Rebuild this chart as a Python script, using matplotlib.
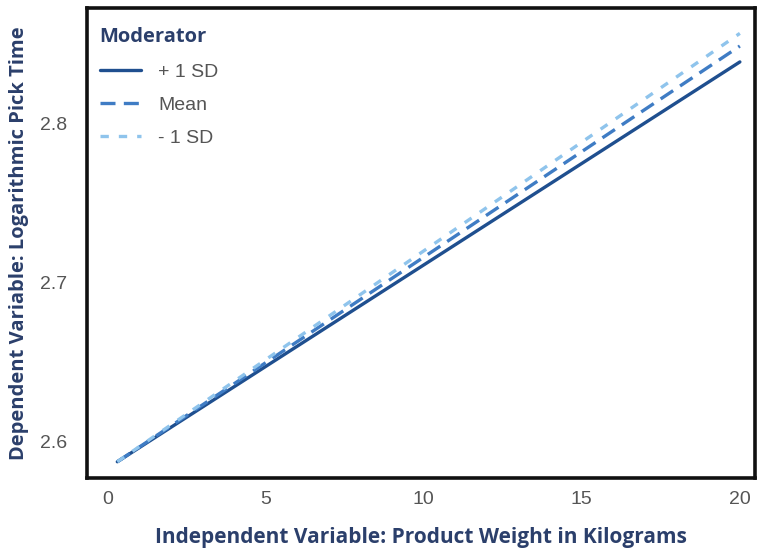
import matplotlib.pyplot as plt

# simple slopes: pick time vs product weight at three moderator levels
weight = [0.3, 20]
plus_sd = [2.587, 2.839]
mean = [2.587, 2.849]
minus_sd = [2.587, 2.857]
series_labels = ["+ 1 SD", "Mean", "- 1 SD"]

x_ticks = [0, 5, 10, 15, 20]
y_ticks = [2.6, 2.7, 2.8]

navy = "#2b3f6b"
tick_grey = "#555555"

fig = plt.figure(figsize=(7.67, 5.54), dpi=100)
ax = fig.add_axes([0.1134, 0.137, 0.8706, 0.8486])

ax.plot(weight, plus_sd, color="#1f4f8f", lw=2.4, ls="-", label=series_labels[0],
        solid_capstyle="round")
ax.plot(weight, mean, color="#3f7cc4", lw=2.4, ls=(0, (4.5, 2.5)), label=series_labels[1])
ax.plot(weight, minus_sd, color="#8fc4ec", lw=2.4, ls=(0, (2.5, 3)), label=series_labels[2])

ax.set_xlim(-0.66, 20.47)
ax.set_ylim(2.5767, 2.873)
ax.set_xticks(x_ticks)
ax.set_yticks(y_ticks)
ax.set_yticklabels([f"{v:.1f}" for v in y_ticks])
ax.tick_params(length=0, labelsize=14, labelcolor=tick_grey)
ax.tick_params(axis="y", pad=14)
ax.tick_params(axis="x", pad=9)
for lab in ax.get_xticklabels() + ax.get_yticklabels():
    lab.set_family("Liberation Sans")

for side in ["left", "bottom", "top", "right"]:
    ax.spines[side].set_linewidth(2.6)
    ax.spines[side].set_color("#111111")

ax.set_xlabel("Independent Variable: Product Weight in Kilograms",
              fontsize=15, fontweight="bold", color=navy, family="Open Sans",
              labelpad=14)
ax.set_ylabel("Dependent Variable: Logarithmic Pick Time",
              fontsize=14.5, fontweight="bold", color=navy, family="Open Sans",
              labelpad=8)

leg = ax.legend(loc="upper left", bbox_to_anchor=(-0.01, 1.0), frameon=False,
                title="Moderator", handlelength=2.1, borderaxespad=0.6,
                handletextpad=0.9, labelspacing=0.8, alignment="left",
                prop={"family": "Liberation Sans", "size": 14})
leg.get_title().set_fontweight("bold")
leg.get_title().set_color(navy)
leg.get_title().set_fontsize(14.5)
leg.get_title().set_family("Open Sans")
for t in leg.get_texts():
    t.set_color(tick_grey)

fig.savefig("out.png", dpi=100)
